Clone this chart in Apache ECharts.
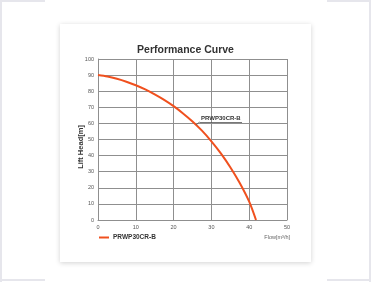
<!DOCTYPE html>
<html>
<head>
<meta charset="utf-8">
<title>Performance Curve</title>
<script src="https://cdn.jsdelivr.net/npm/echarts@6/dist/echarts.min.js"></script>
<style>
    html, body { margin: 0; padding: 0; background: #fff; }
    #main { width: 371px; height: 282px; }
</style>
</head>
<body>
<div id="main"></div>
<script>
    'use strict';

    // values
    var flow = [0, 2.5, 5, 7.5, 10, 12.5, 15, 17.5, 20, 22.5, 25, 27.5, 30, 32.5, 35, 37.5, 40, 41.8];
    var head = [90, 89.1, 87.7, 85.9, 83.7, 81.1, 78, 74.6, 70.7, 66.2, 61.2, 55.5, 48.9, 41.4, 32.8, 23, 11.4, 0];
    var modelName = 'PRWP30CR-B';
    var xTicks = [0, 10, 20, 30, 40, 50];
    var yTicks = [0, 10, 20, 30, 40, 50, 60, 70, 80, 90, 100];
    // leader line of the curve label: curve point, bend, end
    var leader = [[26.0, 59.2], [26.9, 60.9], [38.1, 60.9]];

    var orange = '#f0501e';
    var gridColor = '#8f8f8f';
    var font = '"Liberation Sans", Arial, sans-serif';

    var myChart = echarts.init(document.getElementById('main'), null, { renderer: 'canvas' });

    var points = flow.map(function(x, i) { return [x, head[i]]; });
    var frame = '#e6e6ec';

    var option = {
        animation: false,
        backgroundColor: '#fff',
        title: {
            text: 'Performance Curve',
            left: 'center',
            top: 40,
            textStyle: { fontFamily: font, fontWeight: 'bold', fontSize: 10.5, color: '#333' }
        },
        graphic: [
            // neighbouring frames of the page
            { type: 'line', shape: { x1: 0, y1: 1, x2: 45, y2: 1 }, style: { stroke: frame, lineWidth: 2 }, z: -10 },
            { type: 'line', shape: { x1: 1, y1: 0, x2: 1, y2: 282 }, style: { stroke: frame, lineWidth: 2 }, z: -10 },
            { type: 'line', shape: { x1: 0, y1: 280, x2: 45, y2: 280 }, style: { stroke: frame, lineWidth: 2 }, z: -10 },
            { type: 'line', shape: { x1: 327, y1: 1, x2: 371, y2: 1 }, style: { stroke: frame, lineWidth: 2 }, z: -10 },
            { type: 'line', shape: { x1: 370, y1: 0, x2: 370, y2: 282 }, style: { stroke: frame, lineWidth: 2 }, z: -10 },
            { type: 'line', shape: { x1: 327, y1: 280, x2: 371, y2: 280 }, style: { stroke: frame, lineWidth: 2 }, z: -10 },
            // card
            {
                type: 'rect', z: -5,
                shape: { x: 60, y: 24, width: 251, height: 238 },
                style: { fill: '#fff', shadowBlur: 5, shadowColor: 'rgba(0,0,0,0.18)', shadowOffsetX: 0, shadowOffsetY: 1 }
            },
            {
                type: 'text', x: 81, y: 147, rotation: Math.PI / 2,
                style: { text: 'Lift Head[m]', font: 'bold 7.5px ' + font, fill: '#333', align: 'center', verticalAlign: 'middle' }
            },
            {
                type: 'text', x: 290, y: 237,
                style: { text: 'Flow[m³/h]', font: '5.5px Arial, sans-serif', fill: '#666', align: 'right', verticalAlign: 'middle' }
            }
        ],
        legend: {
            left: 99,
            top: 234,
            padding: 0,
            icon: 'rect',
            itemWidth: 10,
            itemHeight: 2,
            itemGap: 4,
            textStyle: { fontFamily: font, fontWeight: 'bold', fontSize: 6.5, color: '#333', padding: [0, 0, 0, -1] },
            data: [modelName]
        },
        grid: { left: 98, right: 84, top: 59, bottom: 62, containLabel: false },
        xAxis: {
            type: 'value',
            min: xTicks[0],
            max: xTicks[xTicks.length - 1],
            interval: 10,
            axisLine: { show: true, lineStyle: { color: gridColor, width: 1 } },
            axisTick: { show: false },
            axisLabel: { fontSize: 5.5, color: '#555', margin: 4 },
            splitLine: { show: true, lineStyle: { color: gridColor, width: 1 } }
        },
        yAxis: {
            type: 'value',
            min: yTicks[0],
            max: yTicks[yTicks.length - 1],
            interval: 10,
            axisLine: { show: true, lineStyle: { color: gridColor, width: 1 } },
            axisTick: { show: false },
            axisLabel: { fontSize: 5.5, color: '#555', margin: 4 },
            splitLine: { show: true, lineStyle: { color: gridColor, width: 1 } }
        },
        series: [{
            name: modelName,
            type: 'line',
            smooth: 0.3,
            symbol: 'none',
            data: points,
            lineStyle: { color: orange, width: 2 },
            itemStyle: { color: orange },
            markLine: {
                silent: true,
                symbol: 'none',
                lineStyle: { color: '#555', width: 0.8, type: 'solid' },
                data: [
                    [{ coord: leader[0], label: { show: false } }, { coord: leader[1] }],
                    [
                        {
                            coord: leader[1],
                            label: {
                                show: true, position: 'middle', formatter: modelName, distance: 1,
                                fontFamily: font, fontWeight: 'bold', fontSize: 6, color: '#333'
                            }
                        },
                        { coord: leader[2] }
                    ]
                ]
            }
        }]
    };

    myChart.setOption(option);
</script>
</body>
</html>
